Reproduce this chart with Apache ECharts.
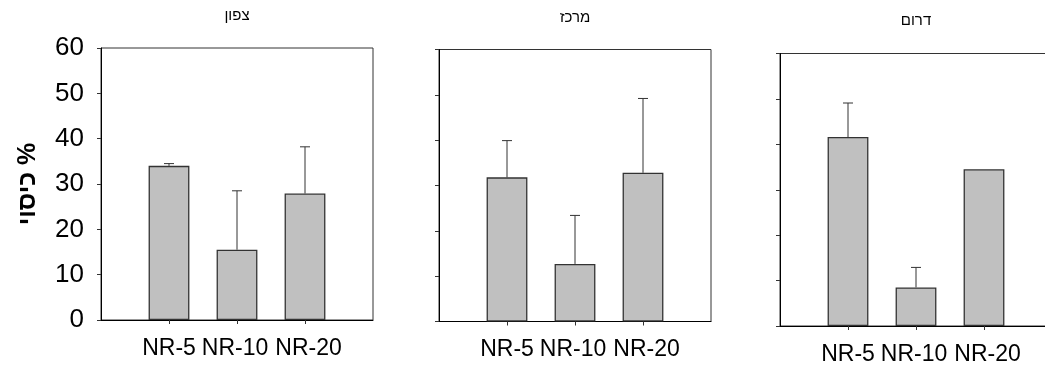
<!DOCTYPE html>
<html>
<head>
<meta charset="utf-8">
<script src="https://cdn.jsdelivr.net/npm/echarts@6/dist/echarts.min.js"></script>
<style>
  html, body { margin: 0; padding: 0; background: #fff; overflow: hidden; }
  /* the canvas is a little wider than the window: the last panel is cut off at its right side */
  #chart { width: 1060px; height: 367px; }
</style>
</head>
<body>
<div id="chart"></div>
<script>
// Vegetation cover (%) by treatment, one panel per region
const categories = ['NR-5', 'NR-10', 'NR-20'];
const regionNames = ['צפון', 'מרכז', 'דרום'];
const yAxisTitle = 'כיסוי %';

// Means and upper error (SD) per region
const northMean = [34.0, 15.5, 27.9];
const northErr = [0.5, 13.0, 10.3];
const centerMean = [31.8, 12.7, 32.8];
const centerErr = [8.1, 10.7, 16.4];
const southMean = [41.6, 8.5, 34.5];
const southErr = [7.5, 4.4, 0];

const yMin = 0;
const yMax = 60;
const yStep = 10;

const PANEL_W = 272;

const panels = [
  { name: regionNames[0], mean: northMean, err: northErr, left: 101, top: 48, height: 272, titleY: 16, labels: true },
  { name: regionNames[1], mean: centerMean, err: centerErr, left: 439, top: 49.5, height: 272, titleY: 18, labels: false },
  { name: regionNames[2], mean: southMean, err: southErr, left: 780, top: 53.5, height: 272.5, titleY: 21, labels: false }
];

const FONT = "'Liberation Sans', Arial, sans-serif";
const LINE = '#333';

// Small horizontal nudges so the three tick labels read as one spaced row
const labelPad = [[0, 0, 0, 0], [0, 4, 0, 0], [0, 0, 0, 7]];

// Axis slots: empty slots at both ends so the three bars sit at 1..3 of 0..4
function makeAxisCats() {
  return [''].concat(
    categories.map((c, k) => ({ value: c, textStyle: { padding: labelPad[k].slice() } })),
    ['']
  );
}
const slotCount = categories.length + 2;

const grids = [], xAxes = [], yAxes = [], series = [], graphics = [];

panels.forEach((p, i) => {
  grids.push({
    left: p.left, top: p.top, width: PANEL_W, height: p.height,
    show: true, borderColor: LINE, borderWidth: 1, backgroundColor: 'transparent'
  });
  xAxes.push({
    type: 'category', gridIndex: i, data: makeAxisCats(), boundaryGap: false,
    axisLine: { lineStyle: { color: '#000', width: 1 } },
    axisTick: { show: true, length: 4, interval: (idx) => idx > 0 && idx < slotCount - 1, lineStyle: { color: LINE } },
    axisLabel: { interval: 0, margin: 17, fontSize: 23, fontFamily: FONT, color: '#000' },
    splitLine: { show: false }
  });
  yAxes.push({
    type: 'value', gridIndex: i, min: yMin, max: yMax, interval: yStep,
    name: i === 0 ? yAxisTitle : '',
    nameLocation: 'middle', nameGap: 60, nameRotate: 90,
    nameTextStyle: { fontSize: 25, fontWeight: 'bold', fontFamily: FONT, color: '#000' },
    axisLine: { show: true, lineStyle: { color: '#000', width: 1 } },
    axisTick: { show: true, length: 4, lineStyle: { color: LINE } },
    axisLabel: { show: p.labels, margin: 17, fontSize: 26, fontFamily: FONT, color: '#000' },
    splitLine: { show: false }
  });
  series.push({
    type: 'bar', xAxisIndex: i, yAxisIndex: i,
    data: ['-'].concat(p.mean, ['-']),
    barWidth: '60%',
    itemStyle: { color: '#c0c0c0', borderColor: '#333', borderWidth: 1.3 },
    silent: true, z: 2
  });
  series.push({
    type: 'custom', xAxisIndex: i, yAxisIndex: i,
    data: p.mean.map((m, k) => [k + 1, m, p.err[k]]),
    encode: { x: 0, y: 1 },
    silent: true, z: 3,
    renderItem: (params, api) => {
      const e = api.value(2);
      if (!e) return null;
      const base = api.coord([api.value(0), api.value(1)]);
      const top = api.coord([api.value(0), api.value(1) + e]);
      const hw = 5;
      const style = { stroke: LINE, lineWidth: 1 };
      return {
        type: 'group',
        children: [
          { type: 'line', shape: { x1: base[0], y1: base[1], x2: top[0], y2: top[1] }, style },
          { type: 'line', shape: { x1: top[0] - hw, y1: top[1], x2: top[0] + hw, y2: top[1] }, style }
        ]
      };
    }
  });
  graphics.push({
    type: 'text', x: p.left + PANEL_W / 2, y: p.titleY,
    style: { text: p.name, align: 'center', verticalAlign: 'middle', fontSize: 15, fontFamily: FONT, fill: '#000' }
  });
});

const chart = echarts.init(document.getElementById('chart'), null, { renderer: 'canvas' });
chart.setOption({
  animation: false,
  backgroundColor: '#fff',
  grid: grids,
  xAxis: xAxes,
  yAxis: yAxes,
  series: series,
  graphic: graphics
});
</script>
</body>
</html>
